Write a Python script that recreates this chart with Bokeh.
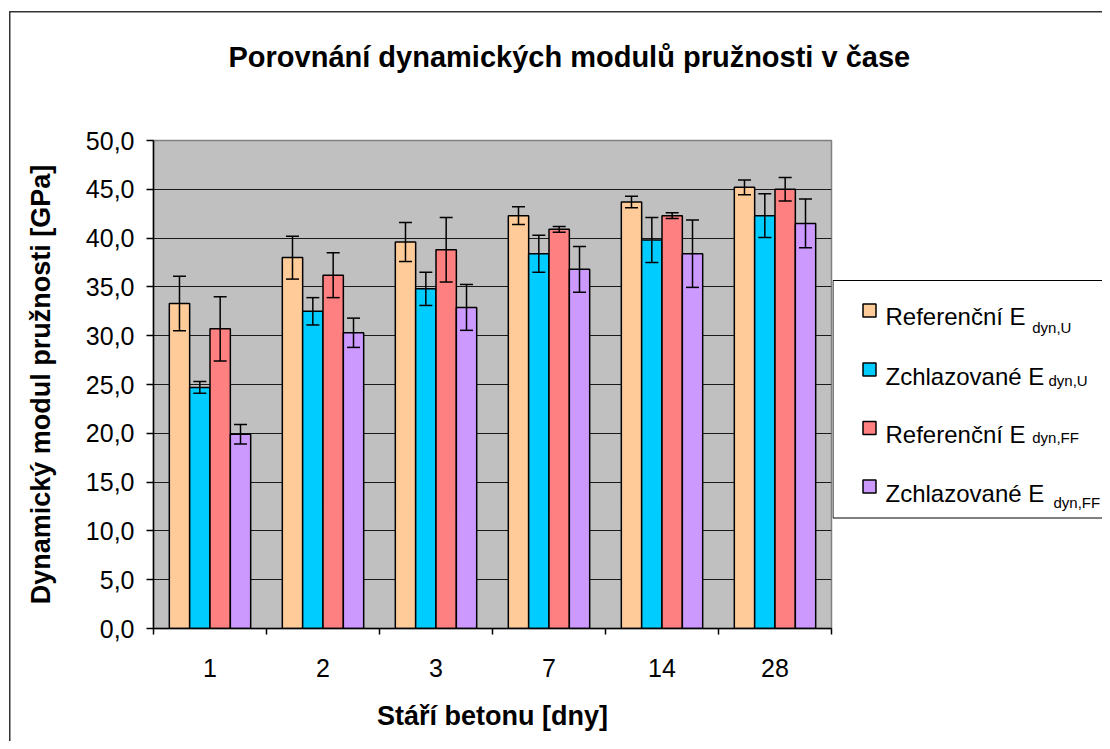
from bokeh.plotting import figure
from bokeh.layouts import row
from bokeh.models import (ColumnDataSource, Range1d, FixedTicker, Whisker, TeeHead, Title)
from bokeh.core.properties import value
from bokeh.embed import file_html
from bokeh.resources import INLINE

# ---------------- data ----------------
ages = ["1", "2", "3", "7", "14", "28"]

ref_U = [33.3, 38.0, 39.6, 42.3, 43.7, 45.2]
ref_U_err = [2.8, 2.2, 2.0, 0.9, 0.6, 0.75]
zchl_U = [24.7, 32.5, 34.8, 38.4, 39.8, 42.3]
zchl_U_err = [0.6, 1.4, 1.7, 1.9, 2.3, 2.25]
ref_FF = [30.7, 36.2, 38.8, 40.9, 42.3, 45.0]
ref_FF_err = [3.3, 2.3, 3.3, 0.3, 0.3, 1.2]
zchl_FF = [19.9, 30.3, 32.9, 36.8, 38.4, 41.5]
zchl_FF_err = [1.0, 1.5, 2.35, 2.35, 3.45, 2.5]

series_main = ["Referenční E", "Zchlazované E", "Referenční E", "Zchlazované E"]
series_sub = ["dyn,U", "dyn,U", "dyn,FF", "dyn,FF"]
series_vals = [ref_U, zchl_U, ref_FF, zchl_FF]
series_errs = [ref_U_err, zchl_U_err, ref_FF_err, zchl_FF_err]
colors = ["#FFCC99", "#00CCFF", "#FF8080", "#CC99FF"]

y_ticks = [0, 5, 10, 15, 20, 25, 30, 35, 40, 45, 50]

# ---------------- layout constants ----------------
W, H = 1102, 741
FL, FT, FW, FH = 153, 140, 678, 488
LGX = 832                     # left edge of legend panel
n = len(ages)
FONT = "Liberation Sans"

p = figure(width=W, height=H, output_backend="svg", toolbar_location=None, title=None,
           x_range=Range1d(0, n), y_range=Range1d(0, 50),
           min_border_left=FL, min_border_top=FT,
           min_border_right=W - FL - FW, min_border_bottom=H - FT - FH)
p.background_fill_color = "#C0C0C0"
p.border_fill_alpha = 0.0
p.outline_line_color = "#808080"
p.outline_line_width = 1.5

# spacer panel between frame and title (pushes the title upward)
p.add_layout(Title(text=" ", text_font=FONT, text_font_size="10px", standoff=55), "above")
# title
p.add_layout(Title(text="Porovnání dynamických modulů pružnosti v čase",
                   align="left", offset=75, standoff=0,
                   text_font=FONT, text_font_size="29px", text_font_style="bold",
                   text_color="black"), "above")

# axes
p.xaxis.ticker = FixedTicker(ticks=[i + 0.5 for i in range(n)],
                             minor_ticks=list(range(n + 1)))
p.xaxis.major_label_overrides = {i + 0.5: a for i, a in enumerate(ages)}
p.xaxis.major_tick_line_color = None
p.xaxis.major_tick_out = 0
p.xaxis.major_tick_in = 0
p.xaxis.minor_tick_line_color = "black"
p.xaxis.minor_tick_out = 6
p.xaxis.minor_tick_in = 0
p.xaxis.minor_tick_line_width = 1.5
p.xaxis.major_label_standoff = 24
p.xaxis.axis_label = "Stáří betonu [dny]"
p.xaxis.axis_label_standoff = 21

p.yaxis.ticker = FixedTicker(ticks=y_ticks)
p.yaxis.major_label_overrides = {t: f"{t:.1f}".replace(".", ",") for t in y_ticks}
p.yaxis.major_tick_out = 7
p.yaxis.major_tick_in = 0
p.yaxis.major_tick_line_color = "black"
p.yaxis.major_tick_line_width = 1.5
p.yaxis.minor_tick_line_color = None
p.yaxis.major_label_standoff = 12
p.yaxis.axis_label = "Dynamický modul pružnosti [GPa]"
p.yaxis.axis_label_standoff = 27

for ax in (p.xaxis, p.yaxis):
    ax.axis_line_color = "black"
    ax.axis_line_width = 1.5
    ax.major_label_text_font = FONT
    ax.major_label_text_font_size = "25px"
    ax.major_label_text_color = "black"
    ax.axis_label_text_font = FONT
    ax.axis_label_text_font_size = "27px"
    ax.axis_label_text_font_style = "bold"
    ax.axis_label_text_color = "black"

p.xgrid.grid_line_color = None
p.ygrid.grid_line_color = "#1a1a1a"
p.ygrid.grid_line_width = 1

# bars + error bars
offsets = [-0.27, -0.09, 0.09, 0.27]
bw = 0.18
for k in range(4):
    xs = [i + 0.5 + offsets[k] for i in range(n)]
    vals = series_vals[k]
    errs = series_errs[k]
    src = ColumnDataSource(dict(
        x=xs, top=vals,
        upper=[v + e for v, e in zip(vals, errs)],
        lower=[v - e for v, e in zip(vals, errs)]))
    p.vbar(x="x", top="top", width=bw, source=src, fill_color=colors[k],
           line_color="black", line_width=1.5)
    wk = Whisker(source=src, base="x", upper="upper", lower="lower",
                 line_color="black", line_width=1.5,
                 upper_head=TeeHead(size=13, line_color="black", line_width=1.5),
                 lower_head=TeeHead(size=13, line_color="black", line_width=1.5),
                 level="overlay")
    p.add_layout(wk)

# ---------------- legend panel (pixel coordinates), overlapping p's right border ----------------
W2 = W - LGX
lg = figure(width=W2, height=H, output_backend="svg", toolbar_location=None,
            x_range=Range1d(0, W2), y_range=Range1d(FT + FH, FT),
            x_axis_type=None, y_axis_type=None,
            min_border_left=0, min_border_right=0,
            min_border_top=FT, min_border_bottom=H - FT - FH,
            margin=(0, 0, 0, -W2))
lg.title.text = ""
lg.grid.visible = False
lg.outline_line_color = None
lg.background_fill_alpha = 0.0
lg.border_fill_alpha = 0.0

lg.quad(left=[0.5], right=[W2 + 20], top=[280], bottom=[517.5],
        fill_color="white", line_color="black", line_width=1)
sw_cy = [310, 369, 427.5, 486]
main_base = [315.7, 376, 434, 492.7]
sub_x = [199.7, 216, 199.7, 221]
sub_base = [326.7, 380, 436.7, 502.3]
lg.quad(left=[30.5] * 4, right=[43.5] * 4,
        top=[c - 6.5 for c in sw_cy], bottom=[c + 6.5 for c in sw_cy],
        fill_color=colors, line_color="black", line_width=1.5)
lg.text(x=[53] * 4, y=main_base, text=series_main, text_baseline="alphabetic",
        text_font=value(FONT), text_font_size="24px", text_color="black")
lg.text(x=sub_x, y=sub_base, text=series_sub, text_baseline="alphabetic",
        text_font=value(FONT), text_font_size="15px", text_color="black")

layout = row(p, lg, spacing=0, styles={
    "background": ("linear-gradient(#333333,#333333) 9px 11px / 1.5px 2000px no-repeat, "
                   "linear-gradient(#333333,#333333) 9px 11px / 2000px 1.5px no-repeat, "
                   "#ffffff")})

open("out.html", "w").write(file_html(layout, INLINE))
